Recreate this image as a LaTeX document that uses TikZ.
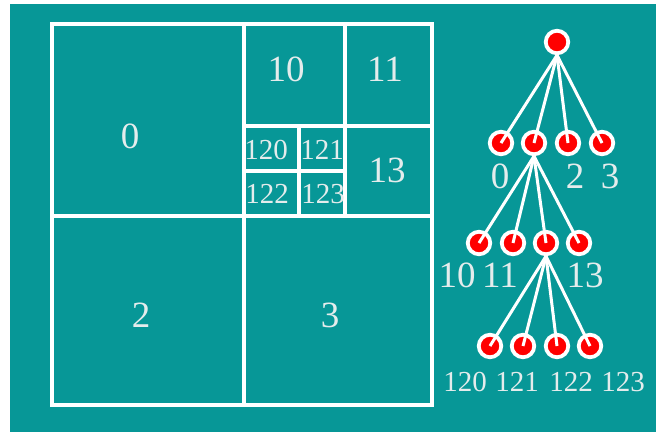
\documentclass[tikz,border=0pt]{standalone}
\usepackage{fontspec}
\setmainfont{Liberation Serif}
\usetikzlibrary{positioning}
\definecolor{qtteal}{HTML}{079797}
\definecolor{qtred}{HTML}{FF0000}
\definecolor{qttext}{HTML}{E4ECEC}

\begin{document}
\begin{tikzpicture}[x=1pt,y=-1pt,
  cell/.style={draw=white,line width=3.6pt},
  biglbl/.style={font=\fontsize{37}{37}\selectfont,text=qttext,inner sep=0pt},
  smalllbl/.style={font=\fontsize{29}{29}\selectfont,text=qttext,inner sep=0pt},
  treelbl/.style={font=\fontsize{37}{37}\selectfont,text=qttext,inner sep=0pt},
  leaflbl/.style={font=\fontsize{29}{29}\selectfont,text=qttext,inner sep=0pt},
  vtx/.style={circle,fill=qtred,draw=white,line width=3.8pt,
              minimum size=22.5pt,inner sep=0pt},
  edge/.style={draw=white,line width=3pt}
]

  % ---- Canvas --------------------------------------------------
  \fill[white] (0,0) rectangle (656,432);
  \fill[qtteal] (10,4) rectangle (656,432);
  \useasboundingbox (0,0) rectangle (656,432);

  % ---- Quadtree cells ------------------------------------------
  \draw[cell] (52,24) rectangle (432,405);
  \draw[cell] (244,24) -- (244,405);
  \draw[cell] (52,216) -- (432,216);
  \draw[cell] (345,24) -- (345,216);
  \draw[cell] (244,126) -- (432,126);
  \draw[cell] (299,126) -- (299,216);
  \draw[cell] (244,171) -- (345,171);

  % Cell labels
  \node[biglbl] (c0) at (130,136) {0};
  \node[biglbl] (c2) at (141,315) {2};
  \node[biglbl] (c3) at (330,315) {3};
  \node[biglbl] (c10) at (286,69) {10};
  \node[biglbl] (c11) at (385,69) {11};
  \node[biglbl] (c13) at (387,170) {13};
  \node[smalllbl] (c120) at (266,150) {120};
  \node[smalllbl] (c121) at (322,150) {121};
  \node[smalllbl] (c122) at (267,194) {122};
  \node[smalllbl] (c123) at (323,194) {123};

  % ---- Tree vertices -------------------------------------------
  \node[vtx] (r) at (557,42) {};

  \node[vtx] (n0) at (501,143) {};
  \node[vtx] (n1) at (534,143) {};
  \node[vtx] (n2) at (568,143) {};
  \node[vtx] (n3) at (602,143) {};

  \node[vtx] (n10) at (479,243) {};
  \node[vtx] (n11) at (513,243) {};
  \node[vtx] (n12) at (546,243) {};
  \node[vtx] (n13) at (579,243) {};

  \node[vtx] (n120) at (490,346) {};
  \node[vtx] (n121) at (523,346) {};
  \node[vtx] (n122) at (557,346) {};
  \node[vtx] (n123) at (590,346) {};

  % ---- Tree edges ----------------------------------------------
  \draw[edge] (r.south) -- (n0.center);
  \draw[edge] (r.south) -- (n1.center);
  \draw[edge] (r.south) -- (n2.center);
  \draw[edge] (r.south) -- (n3.center);

  \draw[edge] (n1.south) -- (n10.center);
  \draw[edge] (n1.south) -- (n11.center);
  \draw[edge] (n1.south) -- (n12.center);
  \draw[edge] (n1.south) -- (n13.center);

  \draw[edge] (n12.south) -- (n120.center);
  \draw[edge] (n12.south) -- (n121.center);
  \draw[edge] (n12.south) -- (n122.center);
  \draw[edge] (n12.south) -- (n123.center);

  % ---- Tree labels ---------------------------------------------
  \node[treelbl] (t0) at (500,176) {0};
  \node[treelbl] (t2) at (575,176) {2};
  \node[treelbl] (t3) at (610,176) {3};

  \node[treelbl] (t10) at (457,275) {10};
  \node[treelbl] (t11) at (500,275) {11};
  \node[treelbl] (t13) at (585,275) {13};

  \node[leaflbl] (t120) at (465,382) {120};
  \node[leaflbl] (t121) at (517,382) {121};
  \node[leaflbl] (t122) at (571,382) {122};
  \node[leaflbl] (t123) at (623,382) {123};

\end{tikzpicture}
\end{document}
